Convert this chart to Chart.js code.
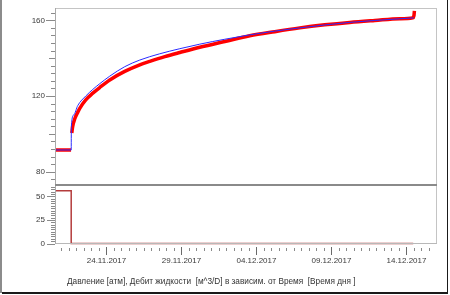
<!DOCTYPE html>
<html>
<head>
<meta charset="utf-8">
<script src="https://cdn.jsdelivr.net/npm/chart.js@4.4.1/dist/chart.umd.min.js"></script>
<style>
  html, body { margin: 0; padding: 0; background: #fff; }
  #wrap { position: relative; width: 450px; height: 295px; overflow: hidden; background: #fff; }
  canvas { position: absolute; left: 0; }
  #cA { top: 0; }
  #cB { top: 184px; }
  .frameL { position: absolute; left: 0; top: 0; width: 2px; height: 293px; background: #8c8c8c; }
  .frameR { position: absolute; left: 446.5px; top: 0; width: 1.5px; height: 293.5px; background: #1a1a1a; }
  .frameB { position: absolute; left: 2px; top: 292px; width: 446px; height: 1.5px; background: #1a1a1a; }
  #title { position: absolute; left: 67px; top: 277px; font: 8.25px "Liberation Sans", Arial, sans-serif; color: #333; white-space: pre; }
</style>
</head>
<body>
<div id="wrap">
  <canvas id="cA" width="450" height="185"></canvas>
  <canvas id="cB" width="450" height="111"></canvas>
  <div class="frameL"></div>
  <div class="frameR"></div>
  <div class="frameB"></div>
  <div id="title">Давление [атм], Дебит жидкости  [м^3/D] в зависим. от Время  [Время дня ]</div>
</div>
<script>
// ---- Data (x = days since 24.11.2017 00:00) ----
const pressureDays   = [-3.43, -2.36, null, -2.31, -2.25, -2.11, -1.91, -1.78, -1.38, -0.91, -0.45, 0.22, 1.22, 2.22, 2.89, 3.89, 4.89, 6.22, 7.89, 9.55, 11.22, 12.89, 14.55, 16.22, 17.89, 19.55, 20.42, 20.50, 20.53];
const pressureValues = [91.5, 91.5, null, 100.5, 104, 108, 111.5, 113.5, 118, 121.5, 124.5, 128.5, 133, 136.5, 138.3, 140.8, 143, 145.8, 148.8, 151.8, 154, 156, 157.6, 158.9, 159.9, 160.8, 161.3, 162.5, 165];

const modelDays   = [-3.43, -2.35, -2.34, -2.18, -1.91, -1.38, -0.91, -0.45, 0.22, 1.22, 2.22, 3.55, 4.89, 6.22, 7.89, 9.55, 11.22, 12.89, 16.22, 19.55, 20.49];
const modelValues = [91.5, 91.5, 104, 110, 115, 120, 123.5, 126.5, 130.5, 135.5, 139, 142.3, 145, 147.4, 150, 152.3, 154.3, 156, 158.9, 160.8, 161.3];

const rateDays   = [-3.43, -2.35, -2.35, 20.45];
const rateValues = [56, 56, 0, 0];

const dateTickDays   = [0, 5, 10, 15, 20];
const dateTickLabels = ['24.11.2017', '29.11.2017', '04.12.2017', '09.12.2017', '14.12.2017'];

const pressureAxisLabels = [80, 120, 160];
const rateAxisLabels = [0, 25, 50];

const X_MIN = -3.43, X_MAX = 21.97;

// ---- helpers ----
const pts = (xs, ys) => xs.map((x, i) => ({ x: x === null ? NaN : x, y: ys[i] }));
const FONT = { family: '"Liberation Sans", Arial, sans-serif', size: 8 };
const LABEL_COLOR = '#3a3a3a';
const TICK_COLOR = '#8a8a8a';
const noPad = s => { s.paddingTop = 0; s.paddingBottom = 0; s.paddingLeft = 0; s.paddingRight = 0; };

function line(ctx, x1, y1, x2, y2, color, w) {
  ctx.save(); ctx.strokeStyle = color; ctx.lineWidth = w;
  ctx.beginPath(); ctx.moveTo(x1, y1); ctx.lineTo(x2, y2); ctx.stroke(); ctx.restore();
}

// ---- Upper chart: pressure ----
const upperFrame = {
  id: 'upperFrame',
  afterDraw(chart) {
    const { ctx, chartArea: a } = chart;
    const y = chart.scales.y;
    line(ctx, a.left, a.top + 0.5, a.right, a.top + 0.5, '#c4c4c4', 1);
    line(ctx, a.right + 0.5, a.top, a.right + 0.5, a.bottom, '#c4c4c4', 1);
    line(ctx, a.left + 0.5, a.top, a.left + 0.5, a.bottom, '#a8a8a8', 1);
    y.ticks.forEach(t => {
      const py = Math.round(y.getPixelForValue(t.value)) + 0.5;
      const len = t.value % 40 === 0 ? 9 : (t.value % 20 === 0 ? 6 : 4);
      line(ctx, a.left - len, py, a.left, py, TICK_COLOR, 1);
    });
  }
};

new Chart(document.getElementById('cA'), {
  type: 'line',
  data: {
    datasets: [
      { label: 'Давление', data: pts(pressureDays, pressureValues), borderColor: '#ff0000', borderWidth: 3.5, pointRadius: 0, spanGaps: false, order: 2, cubicInterpolationMode: 'monotone' },
      { label: 'Модель', data: pts(modelDays, modelValues), borderColor: '#2b2bff', borderWidth: 1, pointRadius: 0, order: 1, cubicInterpolationMode: 'monotone' }
    ]
  },
  options: {
    responsive: false, animation: false, devicePixelRatio: 1,
    layout: { padding: { top: 8, right: 14, left: 0, bottom: 0 } },
    plugins: { legend: { display: false }, tooltip: { enabled: false } },
    scales: {
      x: { type: 'linear', min: X_MIN, max: X_MAX, display: false },
      y: {
        type: 'linear', min: 73, max: 166.5,
        afterFit: s => { s.width = 55; noPad(s); },
        afterBuildTicks: s => { const t = []; for (let v = 76; v <= 164; v += 4) t.push({ value: v }); s.ticks = t; },
        grid: { display: false, drawTicks: false },
        border: { display: false },
        ticks: { autoSkip: false, padding: 10, font: FONT, color: LABEL_COLOR,
                 callback: v => pressureAxisLabels.includes(v) ? String(v) : '' }
      }
    }
  },
  plugins: [upperFrame]
});

// ---- Lower chart: liquid rate ----
const lowerFrame = {
  id: 'lowerFrame',
  afterDraw(chart) {
    const { ctx, chartArea: a } = chart;
    const y = chart.scales.y, x = chart.scales.x;
    line(ctx, a.left, 1, a.right + 1, 1, '#8a8a8a', 2);
    line(ctx, a.right + 0.5, a.top, a.right + 0.5, a.bottom, '#c4c4c4', 1);
    line(ctx, a.left, a.bottom, a.right + 1, a.bottom, '#b8b8b8', 1);
    line(ctx, a.left + 0.5, a.top, a.left + 0.5, a.bottom, '#a8a8a8', 1);
    y.ticks.forEach(t => {
      const py = Math.round(y.getPixelForValue(t.value)) + 0.5;
      const len = rateAxisLabels.includes(t.value) ? 8 : 4;
      line(ctx, a.left - len, py, a.left, py, TICK_COLOR, 1);
    });
    x.ticks.forEach(t => {
      const px = Math.round(x.getPixelForValue(t.value)) + 0.5;
      const major = dateTickDays.includes(t.value);
      if (major) line(ctx, px, a.bottom + 3.5, px, a.bottom + 11.5, '#6a6a6a', 1);
      else line(ctx, px, a.bottom + 4.5, px, a.bottom + 7.5, TICK_COLOR, 1);
    });
  }
};

new Chart(document.getElementById('cB'), {
  type: 'line',
  data: {
    datasets: [
      { label: 'Дебит жидкости', data: pts(rateDays, rateValues), borderColor: '#b43c3c', borderWidth: 1.5, pointRadius: 0, tension: 0, clip: 4 }
    ]
  },
  options: {
    responsive: false, animation: false, devicePixelRatio: 1,
    layout: { padding: { top: 2, right: 14, left: 0, bottom: 0 } },
    plugins: { legend: { display: false }, tooltip: { enabled: false } },
    scales: {
      x: {
        type: 'linear', min: X_MIN, max: X_MAX, position: 'bottom',
        afterFit: s => { s.height = 51.5; noPad(s); },
        afterBuildTicks: s => { const t = []; for (let v = -3; v <= 21.5; v += 0.5) t.push({ value: v }); s.ticks = t; },
        grid: { display: false, drawTicks: false },
        border: { display: false },
        ticks: { autoSkip: false, maxRotation: 0, padding: 12, font: FONT, color: LABEL_COLOR,
                 callback: v => { const i = dateTickDays.indexOf(v); return i >= 0 ? dateTickLabels[i] : ''; } }
      },
      y: {
        type: 'linear', min: 0, max: 61,
        afterFit: s => { s.width = 55; noPad(s); },
        afterBuildTicks: s => { const t = []; for (let v = 0; v <= 60; v += 2.5) t.push({ value: v }); s.ticks = t; },
        grid: { display: false, drawTicks: false },
        border: { display: false },
        ticks: { autoSkip: false, padding: 10, font: FONT, color: LABEL_COLOR,
                 callback: v => rateAxisLabels.includes(v) ? String(v) : '' }
      }
    }
  },
  plugins: [lowerFrame]
});
</script>
</body>
</html>
